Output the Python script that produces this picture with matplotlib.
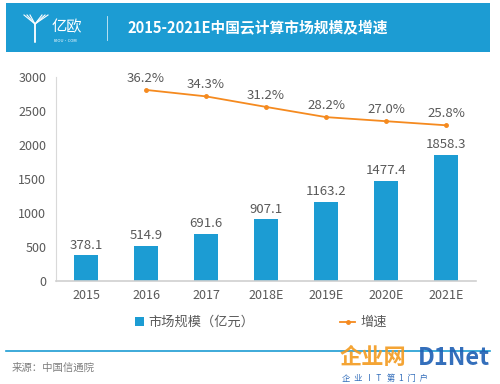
import matplotlib
matplotlib.use("Agg")
import matplotlib.pyplot as plt
from matplotlib.patches import Rectangle
from matplotlib.lines import Line2D
import numpy as np

plt.rcParams['font.family'] = ['Noto Sans CJK SC', 'DejaVu Sans']

years = ["2015", "2016", "2017", "2018E", "2019E", "2020E", "2021E"]
market = [378.1, 514.9, 691.6, 907.1, 1163.2, 1477.4, 1858.3]
growth = [None, 36.2, 34.3, 31.2, 28.2, 27.0, 25.8]
title = "2015-2021E中国云计算市场规模及增速"
legend_bar = "市场规模（亿元）"
legend_line = "增速"
source = "来源：中国信通院"

BLUE = "#1C9CD3"
ORANGE = "#F58A1F"
GRAY = "#595959"
FW = "light"

W, H = 500, 384
fig = plt.figure(figsize=(5, 3.84), dpi=100)

def fx(x): return x / W
def fy(y): return 1 - y / H

# header banner
fig.patches.append(Rectangle((fx(6), fy(52)), fx(484), 49 / H, transform=fig.transFigure,
                             facecolor=BLUE, edgecolor="none", zorder=0))
# logo icon (simple Y shape)
for dx in (-3, 0, 3):
    fig.add_artist(Line2D([fx(27 + dx), fx(35), fx(35)], [fy(15), fy(24), fy(42)],
                          transform=fig.transFigure, color="white", lw=0.8))
    fig.add_artist(Line2D([fx(45 + dx), fx(35)], [fy(15), fy(24)],
                          transform=fig.transFigure, color="white", lw=0.8))
fig.text(fx(52), fy(27), "亿欧", color="white", fontsize=11, va="center", ha="left",
         fontweight="light")
fig.text(fx(54), fy(41), "IYIOU·COM", color="white", fontsize=3, va="center", ha="left")
fig.add_artist(Line2D([fx(107), fx(107)], [fy(16), fy(40)], transform=fig.transFigure,
                      color="white", lw=0.6, alpha=0.8))
fig.text(fx(127), fy(28), title, color="white", fontsize=10.6, fontweight="bold",
         va="center", ha="left")

# main axes
ax = fig.add_axes([fx(56), fy(281), fx(420), (281 - 77) / H])
x = np.arange(len(years))
bars = ax.bar(x, market, width=0.4, color=BLUE, zorder=2)
ax.set_xlim(-0.5, len(years) - 0.5)
ax.set_ylim(0, 3000)
ax.set_yticks(np.arange(0, 3001, 500))
ax.set_xticks(x)
ax.set_xticklabels(years)
ax.tick_params(axis="both", length=0, labelsize=9, colors=GRAY)
ax.tick_params(axis="y", pad=7)
ax.tick_params(axis="x", pad=6)
for lab in ax.get_xticklabels() + ax.get_yticklabels():
    lab.set_fontweight(FW)
for s in ("top", "right"):
    ax.spines[s].set_visible(False)
ax.spines["left"].set_color("#D9D9D9")
ax.spines["bottom"].set_color("#D0D0D0")
ax.spines["bottom"].set_linewidth(1.2)
for xi, v in zip(x, market):
    ax.text(xi, v + 55, f"{v:.1f}", ha="center", va="bottom", fontsize=9.5, color=GRAY,
            fontweight=FW)

ax2 = ax.twinx()
gx = [xi for xi, g in zip(x, growth) if g is not None]
gy = [g / 100 for g in growth if g is not None]
line, = ax2.plot(gx, gy, color=ORANGE, lw=1.3, marker="o", markersize=2.5, zorder=3)
ax2.set_ylim(-0.2, 0.4)
ax2.axis("off")
for xi, g in zip(gx, gy):
    ax2.text(xi, g + 0.015, f"{g*100:.1f}%", ha="center", va="bottom", fontsize=9.5,
             color=GRAY, fontweight=FW)

# legend (drawn manually)
fig.patches.append(Rectangle((fx(135), fy(326)), 9 / W, 9 / H, transform=fig.transFigure,
                             facecolor=BLUE, edgecolor="none"))
fig.text(fx(148), fy(322), legend_bar, color=GRAY, fontsize=9.5, va="center", ha="left",
         fontweight=FW)
fig.add_artist(Line2D([fx(340), fx(355)], [fy(322), fy(322)], transform=fig.transFigure,
                      color=ORANGE, lw=1.3))
fig.add_artist(Line2D([fx(347.5)], [fy(322)], transform=fig.transFigure, color=ORANGE,
                      marker="o", markersize=2.5))
fig.text(fx(360), fy(322), legend_line, color=GRAY, fontsize=9.5, va="center", ha="left",
         fontweight=FW)

# bottom rule and source
fig.add_artist(Line2D([fx(6), fx(490)], [fy(351), fy(351)], transform=fig.transFigure,
                      color=BLUE, lw=1.2))
fig.text(fx(12), fy(368), source, color="#7F7F7F", fontsize=7.5, va="center", ha="left")

# watermark
fig.text(fx(340), fy(358), "企业网", color="#F39A1E", fontsize=16, fontweight="bold",
         va="center", ha="left", alpha=0.9)
fig.text(fx(418), fy(358), "D1Net", color="#1E5FB4", fontsize=17, fontweight="bold",
         va="center", ha="left", alpha=0.9)
fig.text(fx(342), fy(378), "企  业   I   T   第  1  门  户", color="#1E5FB4", fontsize=6,
         va="center", ha="left", alpha=0.9)

fig.savefig("out.png", dpi=100)
